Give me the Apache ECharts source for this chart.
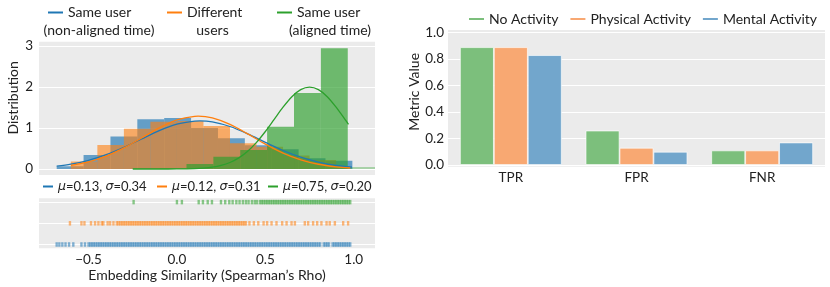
<!DOCTYPE html>
<html><head><meta charset="utf-8">
<script src="https://cdn.jsdelivr.net/npm/echarts@6/dist/echarts.min.js"></script>
<style>html,body{margin:0;padding:0;background:#fff}#c{width:830px;height:287px}</style>
</head><body><div id="c"></div>
<script>
// ---------- data: histogram bins (density) ----------
const blueEdges = [-0.68,-0.528,-0.376,-0.224,-0.072,0.08,0.232,0.384,0.536,0.688,0.84,0.992];
const blueHeights = [0.07,0.34,0.79,1.21,1.24,1.0,0.75,0.58,0.48,0.26,0.2];
const orangeEdges = [-0.60,-0.45,-0.30,-0.15,0.0,0.15,0.30,0.45,0.60,0.75,0.90,0.98];
const orangeHeights = [0.18,0.585,0.98,1.15,1.17,1.05,0.63,0.54,0.33,0.22,0.05];
const greenEdges = [-0.25,-0.098,0.054,0.206,0.358,0.51,0.662,0.814,0.966];
const greenHeights = [0.01,0.02,0.12,0.3,0.46,1.03,1.85,2.94];
const greenTailEdges = [0.966,1.12];
const greenTailHeights = [0.05];

// ---------- data: fitted curves ----------
const blueCurve = [[-0.68,0.069],[-0.6,0.117],[-0.5,0.211],[-0.4,0.348],[-0.3,0.527],[-0.2,0.732],[-0.1,0.933],[0.0,1.09],[0.1,1.168],[0.13,1.173],[0.2,1.148],[0.3,1.035],[0.4,0.856],[0.5,0.649],[0.6,0.451],[0.7,0.288],[0.8,0.168],[0.9,0.09],[0.99,0.048]];
const orangeCurve = [[-0.6,0.087],[-0.5,0.174],[-0.4,0.315],[-0.3,0.514],[-0.2,0.756],[-0.1,1.0],[0.0,1.194],[0.1,1.284],[0.12,1.287],[0.2,1.245],[0.3,1.087],[0.4,0.856],[0.5,0.607],[0.6,0.388],[0.7,0.224],[0.8,0.116],[0.9,0.054],[0.98,0.027]];
const greenCurve = [[-0.25,0.0],[-0.1,0.0002],[0.0,0.002],[0.1,0.01],[0.15,0.022],[0.2,0.045],[0.25,0.088],[0.3,0.159],[0.35,0.27],[0.4,0.432],[0.45,0.648],[0.5,0.913],[0.55,1.21],[0.6,1.506],[0.65,1.761],[0.7,1.934],[0.75,1.995],[0.8,1.934],[0.85,1.761],[0.9,1.506],[0.95,1.21],[0.97,1.089]];

// ---------- data: rug positions ----------
const blueRug = [-0.68,-0.665,-0.648,-0.63,-0.61,-0.586,-0.54,-0.52,-0.50,-0.49,-0.48,-0.47,-0.46,-0.45,-0.44,-0.43,-0.42,-0.41,-0.40,-0.39,-0.38,-0.37,-0.36,-0.35,-0.34,-0.33,-0.32,-0.31,-0.30,-0.29,-0.28,-0.27,-0.26,-0.25,-0.24,-0.23,-0.22,-0.21,-0.20,-0.19,-0.18,-0.17,-0.16,-0.15,-0.14,-0.13,-0.12,-0.11,-0.10,-0.09,-0.08,-0.07,-0.06,-0.05,-0.04,-0.03,-0.02,-0.01,0.00,0.01,0.02,0.03,0.04,0.05,0.06,0.07,0.08,0.09,0.10,0.11,0.12,0.13,0.14,0.15,0.16,0.17,0.18,0.19,0.20,0.21,0.22,0.23,0.24,0.25,0.26,0.27,0.28,0.29,0.30,0.31,0.32,0.33,0.34,0.35,0.36,0.37,0.38,0.39,0.40,0.41,0.42,0.43,0.44,0.45,0.46,0.47,0.48,0.49,0.50,0.51,0.52,0.53,0.54,0.55,0.56,0.57,0.58,0.59,0.60,0.61,0.62,0.63,0.64,0.65,0.66,0.67,0.68,0.69,0.70,0.71,0.72,0.73,0.74,0.75,0.76,0.77,0.78,0.79,0.80,0.81,0.83,0.84,0.85,0.86,0.88,0.89,0.90,0.91,0.92,0.93,0.94,0.95,0.96,0.97,0.98];
const orangeRug = [-0.605,-0.54,-0.523,-0.486,-0.463,-0.444,-0.425,-0.416,-0.392,-0.378,-0.359,-0.34,-0.33,-0.32,-0.31,-0.30,-0.29,-0.28,-0.27,-0.26,-0.25,-0.24,-0.23,-0.22,-0.21,-0.20,-0.19,-0.18,-0.17,-0.16,-0.15,-0.14,-0.13,-0.12,-0.11,-0.10,-0.09,-0.08,-0.07,-0.06,-0.05,-0.04,-0.03,-0.02,-0.01,0.00,0.01,0.02,0.03,0.04,0.05,0.06,0.07,0.08,0.09,0.10,0.11,0.12,0.13,0.14,0.15,0.16,0.17,0.18,0.19,0.20,0.21,0.22,0.23,0.24,0.25,0.26,0.27,0.28,0.29,0.30,0.31,0.32,0.33,0.34,0.35,0.36,0.37,0.38,0.39,0.41,0.435,0.46,0.49,0.51,0.535,0.563,0.595,0.62,0.648,0.667,0.723,0.742,0.77,0.793,0.817,0.846,0.864,0.893,0.94,0.968];
const greenRug = [-0.245,0.0,0.028,0.123,0.147,0.174,0.198,0.249,0.273,0.296,0.315,0.336,0.354,0.373,0.39,0.405,0.424,0.44,0.453,0.47,0.48,0.49,0.50,0.51,0.52,0.53,0.54,0.55,0.56,0.57,0.58,0.59,0.60,0.61,0.62,0.63,0.64,0.65,0.66,0.67,0.68,0.69,0.70,0.71,0.72,0.73,0.74,0.75,0.76,0.77,0.78,0.79,0.80,0.81,0.82,0.83,0.84,0.85,0.86,0.87,0.88,0.89,0.90,0.91,0.92,0.93,0.94,0.95,0.96,0.97,0.98];

// ---------- data: tick labels ----------
const histYTicks = [0,1,2,3];
const simXTicks = [-0.5,0.0,0.5,1.0];
const metricYTicks = [0.0,0.2,0.4,0.6,0.8,1.0];

// ---------- data: bar chart ----------
const metrics = ['TPR','FPR','FNR'];
const noActivity = [0.89,0.26,0.11];
const physicalActivity = [0.89,0.13,0.11];
const mentalActivity = [0.83,0.10,0.17];

// ---------- styles ----------
const FONT = 'Lato';
const TXT = '#222';
const BG = '#EBEBEB';
const C = {blue:'#1f77b4', orange:'#ff7f0e', green:'#2ca02c'};
const BAR = {green:'#7cbf7c', orange:'#f8a872', blue:'#72a6cc'};
const HIST = {blue:'rgba(31,119,180,0.66)', orange:'rgba(255,127,14,0.6)', green:'rgba(44,160,44,0.66)', tail:'rgba(44,160,44,0.35)'};
const isTick = (list, v) => list.some(t => Math.abs(t - v) < 1e-6);

function histSeries(name, edges, heights, color, z) {
  return {
    type:'custom', name, xAxisIndex:0, yAxisIndex:0, z, clip:true, silent:true,
    encode:{x:[0,1], y:2},
    data: heights.map((h,i) => [edges[i], edges[i+1], h]),
    renderItem(params, api) {
      const a = api.coord([api.value(0), api.value(2)]);
      const b = api.coord([api.value(1), 0]);
      return {type:'rect', shape:{x:a[0], y:a[1], width:b[0]-a[0], height:b[1]-a[1]}, style:{fill:color}};
    }
  };
}
function curveSeries(name, data, color) {
  return {type:'line', name, xAxisIndex:0, yAxisIndex:0, data, smooth:0.3, showSymbol:false, silent:true, z:6,
    lineStyle:{color, width:1.3}, itemStyle:{color}};
}
function rugSeries(name, vals, row, color) {
  return {type:'scatter', name, xAxisIndex:1, yAxisIndex:1, silent:true,
    data: vals.map(v => [v, row]), symbol:'rect', symbolSize:[2.4,4.5],
    itemStyle:{color, opacity:0.55}};
}
function barSeries(name, data, color) {
  return {type:'bar', name, xAxisIndex:2, yAxisIndex:2, data, barGap:'0%', barCategoryGap:'19%', silent:true,
    itemStyle:{color, borderColor:'rgba(255,255,255,0.8)', borderWidth:0.8}};
}
const txt = (size) => ({color:TXT, fontFamily:FONT, fontSize:size});
function topLegend(name, label, left) {
  return {data:[{name, itemStyle:{color:null}}], left, top:5.5, padding:0, icon:'rect', itemWidth:15, itemHeight:2,
    selectedMode:false, formatter:() => label, textStyle:txt(14)};
}
function rugLegend(name, color, left) {
  return {data:[{name, itemStyle:{color, opacity:1}}], left, top:180, padding:0, icon:'rect', itemWidth:10, itemHeight:2,
    selectedMode:false,
    formatter: n => n.replace('μ','{g|μ}').replace('σ','{g|σ}'),
    textStyle:Object.assign(txt(13), {rich:{g:{fontFamily:'DejaVu Sans', fontStyle:'italic', fontSize:12.5, color:TXT}}})};
}

const names = {
  b:'Same user (non-aligned time)', o:'Different users', g:'Same user (aligned time)',
  rb:'μ=0.13, σ=0.34', ro:'μ=0.12, σ=0.31', rg:'μ=0.75, σ=0.20'
};

const option = {
  animation:false,
  textStyle:{fontFamily:FONT},
  grid:[
    {left:39, top:41.7, width:336, height:133.3, show:true, backgroundColor:BG, borderWidth:0},
    {left:39, top:198.3, width:336, height:50, show:true, backgroundColor:BG, borderWidth:0},
    {left:448, top:30, width:377, height:136.7, show:true, backgroundColor:BG, borderWidth:0}
  ],
  xAxis:[
    {type:'value', gridIndex:0, min:-0.78, max:1.12, show:false},
    {type:'value', gridIndex:1, min:-0.78, max:1.12, minInterval:0.5, maxInterval:0.5,
      axisLine:{show:false}, axisTick:{show:false}, splitLine:{show:false},
      axisLabel:Object.assign(txt(13.5), {margin:4, formatter:v => isTick(simXTicks, v) ? v.toFixed(1).replace('-', '−') : ''}),
      name:"Embedding Similarity (Spearman’s Rho)", nameLocation:'middle', nameGap:20, nameTextStyle:txt(14)},
    {type:'category', gridIndex:2, data:metrics, axisLine:{show:false}, axisTick:{show:false},
      axisLabel:Object.assign(txt(13.5), {margin:4})}
  ],
  yAxis:[
    {type:'value', gridIndex:0, min:-0.146, max:3.1, minInterval:1, maxInterval:1,
      axisLine:{show:false}, axisTick:{show:false},
      splitLine:{lineStyle:{color:'#fff', width:1}, showMinLine:false, showMaxLine:false},
      axisLabel:Object.assign(txt(13.5), {margin:6, formatter:v => isTick(histYTicks, v) ? String(Math.round(v)) : ''}),
      name:'Distribution', nameLocation:'middle', nameGap:19, nameTextStyle:Object.assign(txt(14), {padding:[0,0,0,21]})},
    {type:'value', gridIndex:1, min:-0.18, max:2.18, minInterval:1, maxInterval:1,
      axisLine:{show:false}, axisTick:{show:false}, axisLabel:{show:false},
      splitLine:{lineStyle:{color:'#fff', width:1}, showMinLine:false, showMaxLine:false}},
    {type:'value', gridIndex:2, min:-0.013, max:1.02, minInterval:0.2, maxInterval:0.2,
      axisLine:{show:false}, axisTick:{show:false},
      splitLine:{lineStyle:{color:'#fff', width:1}, showMinLine:false, showMaxLine:false},
      axisLabel:Object.assign(txt(13.5), {margin:4, formatter:v => isTick(metricYTicks, v) ? v.toFixed(1) : ''}),
      name:'Metric Value', nameLocation:'middle', nameGap:24, nameTextStyle:Object.assign(txt(14), {padding:[0,0,0,13]})}
  ],
  legend:[
    topLegend(names.b, 'Same user', 48),
    topLegend(names.o, 'Different', 167),
    topLegend(names.g, 'Same user', 277),
    rugLegend(names.rb, C.blue, 43),
    rugLegend(names.ro, C.orange, 157),
    rugLegend(names.rg, C.green, 268),
    {data:[
        {name:'No Activity', itemStyle:{color:BAR.green, borderWidth:0, opacity:1}},
        {name:'Physical Activity', itemStyle:{color:BAR.orange, borderWidth:0, opacity:1}},
        {name:'Mental Activity', itemStyle:{color:BAR.blue, borderWidth:0, opacity:1}}],
      left:469, top:12, padding:0, icon:'rect',
      itemWidth:15, itemHeight:2, itemGap:12, selectedMode:false, textStyle:txt(14)}
  ],
  graphic:[
    {type:'text', x:99, y:30.5, silent:true, style:{text:'(non-aligned time)', fill:TXT, font:'14px Lato', textAlign:'center', textVerticalAlign:'middle'}},
    {type:'text', x:212.5, y:30.5, silent:true, style:{text:'users', fill:TXT, font:'14px Lato', textAlign:'center', textVerticalAlign:'middle'}},
    {type:'text', x:330, y:30.5, silent:true, style:{text:'(aligned time)', fill:TXT, font:'14px Lato', textAlign:'center', textVerticalAlign:'middle'}}
  ],
  series:[
    histSeries('hist blue', blueEdges, blueHeights, HIST.blue, 1),
    histSeries('hist orange', orangeEdges, orangeHeights, HIST.orange, 2),
    histSeries('hist green', greenEdges, greenHeights, HIST.green, 3),
    histSeries('hist green tail', greenTailEdges, greenTailHeights, HIST.tail, 3),
    curveSeries(names.b, blueCurve, C.blue),
    curveSeries(names.o, orangeCurve, C.orange),
    curveSeries(names.g, greenCurve, C.green),
    rugSeries(names.rb, blueRug, 0, C.blue),
    rugSeries(names.ro, orangeRug, 1, C.orange),
    rugSeries(names.rg, greenRug, 2, C.green),
    barSeries('No Activity', noActivity, BAR.green),
    barSeries('Physical Activity', physicalActivity, BAR.orange),
    barSeries('Mental Activity', mentalActivity, BAR.blue)
  ]
};
const chart = echarts.init(document.getElementById('c'), null, {renderer:'canvas'});
chart.setOption(option);
</script></body></html>
